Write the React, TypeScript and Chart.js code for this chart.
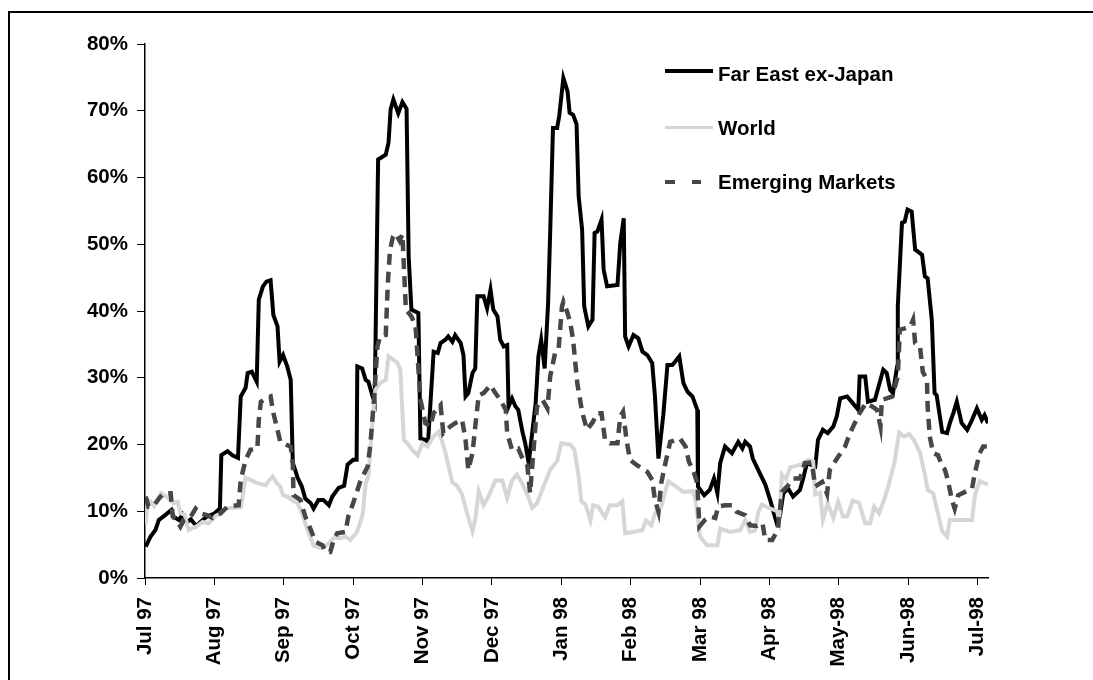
import React, { useEffect, useRef } from 'react';
import { Chart, registerables } from 'chart.js';

Chart.register(...registerables);

// x = months since start of Jul 97, y = percent
const monthLabels = ['Jul 97', 'Aug 97', 'Sep 97', 'Oct 97', 'Nov 97', 'Dec 97', 'Jan 98', 'Feb 98', 'Mar 98', 'Apr 98', 'May-98', 'Jun-98', 'Jul-98'];
const yTickValues = [0, 10, 20, 30, 40, 50, 60, 70, 80];

const farEast: [number, number][] = [
  [0.01, 4.7], [0.08, 6.2], [0.15, 7.2], [0.2, 8.7], [0.3, 9.5], [0.38, 10.2], [0.41, 9.2], [0.49, 8.7], [0.54, 9.5], [0.6, 8.3], [0.66, 8.8], [0.74, 7.8], [0.8, 8.4], [0.89, 9.2], [0.99, 9.6], [1.08, 10.4],
  [1.1, 18.4], [1.19, 19.0], [1.26, 18.4], [1.34, 18.0], [1.38, 27.2], [1.45, 28.5], [1.48, 30.7], [1.54, 30.9], [1.61, 29.4], [1.64, 41.7], [1.7, 43.7], [1.75, 44.4], [1.81, 44.6], [1.85, 39.4], [1.91, 37.7], [1.94, 32.4], [1.99, 33.4], [2.05, 31.7], [2.1, 29.7],
  [2.13, 17.3], [2.2, 15.0], [2.26, 13.7], [2.31, 11.9], [2.39, 11.2], [2.43, 10.4], [2.5, 11.7], [2.57, 11.7], [2.65, 10.9], [2.7, 12.2], [2.79, 13.5], [2.87, 13.8], [2.92, 17.0], [3.0, 17.7], [3.05, 17.7],
  [3.06, 31.7], [3.13, 31.4], [3.18, 29.7], [3.22, 29.4], [3.28, 27.2], [3.31, 26.4], [3.36, 62.7], [3.47, 63.4], [3.51, 65.2], [3.54, 70.2], [3.58, 71.7], [3.65, 69.6], [3.71, 71.3], [3.77, 70.3], [3.8, 48.2], [3.84, 40.2], [3.94, 39.7],
  [3.97, 20.9], [4.04, 20.7], [4.08, 20.4], [4.16, 33.9], [4.22, 33.7], [4.26, 35.2], [4.33, 35.7], [4.37, 36.2], [4.43, 35.4], [4.47, 36.4], [4.55, 35.2], [4.59, 33.4], [4.62, 27.2], [4.66, 27.7], [4.72, 30.7], [4.76, 31.4],
  [4.79, 42.2], [4.88, 42.2], [4.93, 40.4], [4.98, 43.2], [5.02, 40.2], [5.08, 39.2], [5.12, 35.7], [5.17, 34.7], [5.22, 34.9], [5.24, 25.7], [5.29, 26.9], [5.34, 25.7], [5.38, 25.2], [5.44, 21.9], [5.48, 20.2], [5.53, 17.2],
  [5.58, 21.7], [5.63, 26.2], [5.67, 33.2], [5.71, 35.7], [5.76, 31.4], [5.81, 41.2], [5.84, 51.9], [5.88, 67.4], [5.94, 67.4], [5.97, 69.2], [6.03, 74.9], [6.09, 72.9], [6.12, 69.7], [6.17, 69.4], [6.22, 68.0], [6.25, 57.2],
  [6.3, 52.2], [6.33, 40.7], [6.39, 37.7], [6.45, 38.7], [6.48, 51.7], [6.52, 51.9], [6.58, 53.7], [6.61, 46.2], [6.66, 43.7], [6.81, 43.9], [6.85, 50.2], [6.9, 53.9], [6.92, 36.2], [6.97, 34.7], [7.04, 36.4], [7.11, 35.9],
  [7.17, 33.9], [7.24, 33.4], [7.31, 32.2], [7.35, 27.2], [7.4, 17.9], [7.47, 24.4], [7.53, 31.9], [7.6, 31.9], [7.64, 32.4], [7.7, 33.2], [7.76, 29.2], [7.82, 27.9], [7.89, 27.2], [7.96, 25.2], [7.97, 13.7],
  [8.06, 12.4], [8.14, 13.2], [8.2, 14.9], [8.25, 12.7], [8.29, 17.2], [8.36, 19.7], [8.46, 18.7], [8.55, 20.4], [8.61, 19.4], [8.65, 20.4], [8.72, 19.7], [8.76, 17.9], [8.86, 15.7], [8.94, 14.0], [9.01, 11.7], [9.1, 8.4],
  [9.15, 9.2], [9.2, 12.7], [9.27, 13.4], [9.34, 12.2], [9.44, 13.2], [9.48, 14.7], [9.54, 17.2], [9.66, 16.7], [9.7, 20.7], [9.77, 22.2], [9.84, 21.7], [9.92, 22.7], [9.97, 24.2], [10.02, 26.9], [10.12, 27.2], [10.2, 26.2],
  [10.28, 25.2], [10.3, 30.2], [10.38, 30.2], [10.42, 26.4], [10.52, 26.7], [10.6, 29.7], [10.64, 31.2], [10.69, 30.7], [10.74, 28.2], [10.78, 27.7], [10.84, 31.7], [10.85, 40.7], [10.91, 53.2], [10.95, 53.4], [10.99, 55.2],
  [11.05, 54.9], [11.1, 49.2], [11.14, 48.9], [11.2, 48.4], [11.24, 45.2], [11.28, 44.9], [11.34, 38.7], [11.38, 27.7], [11.41, 27.4], [11.49, 21.9], [11.56, 21.7], [11.6, 23.2], [11.65, 24.7], [11.7, 26.4], [11.77, 23.2],
  [11.85, 22.2], [11.92, 23.7], [11.99, 25.4], [12.06, 23.7], [12.1, 24.4], [12.15, 23.2],
];

const world: [number, number][] = [
  [0.01, 8.0], [0.04, 11.7], [0.08, 11.5], [0.13, 10.8], [0.23, 12.7], [0.33, 12.0], [0.41, 11.2], [0.47, 11.4], [0.51, 9.7], [0.57, 9.5], [0.63, 7.2], [0.69, 7.5], [0.74, 7.7], [0.83, 8.4], [0.92, 8.2], [1.02, 9.3],
  [1.09, 9.7], [1.15, 10.4], [1.23, 10.5], [1.38, 10.6], [1.45, 15.0], [1.52, 14.7], [1.62, 14.2], [1.74, 13.9], [1.78, 14.5], [1.84, 15.2], [1.9, 14.2], [1.95, 13.7], [1.99, 12.4], [2.05, 12.2], [2.14, 11.5], [2.2, 11.2],
  [2.27, 9.5], [2.31, 8.2], [2.36, 6.7], [2.43, 4.8], [2.53, 4.5], [2.63, 5.0], [2.72, 6.0], [2.82, 6.0], [2.89, 6.2], [2.96, 5.7], [3.05, 6.8], [3.11, 8.5], [3.14, 9.7], [3.18, 14.2], [3.22, 15.2], [3.28, 23.7],
  [3.32, 28.2], [3.39, 29.2], [3.47, 29.7], [3.51, 33.2], [3.58, 32.7], [3.64, 32.2], [3.68, 31.2], [3.73, 20.7], [3.78, 20.2], [3.85, 19.2], [3.93, 18.4], [4.0, 20.2], [4.07, 19.7], [4.16, 21.2], [4.23, 21.9], [4.27, 20.9],
  [4.33, 18.8], [4.43, 14.3], [4.5, 13.8], [4.57, 12.5], [4.65, 9.4], [4.72, 7.0], [4.76, 8.8], [4.81, 13.0], [4.88, 10.9], [4.95, 12.2], [5.05, 14.6], [5.15, 14.6], [5.22, 12.0], [5.29, 14.6], [5.36, 15.5], [5.44, 14.1],
  [5.53, 12.0], [5.58, 10.5], [5.65, 11.2], [5.74, 13.6], [5.84, 16.2], [5.94, 17.5], [6.0, 20.2], [6.13, 20.0], [6.19, 19.2], [6.25, 15.2], [6.29, 11.5], [6.35, 11.0], [6.42, 8.6], [6.46, 10.9], [6.53, 10.7], [6.63, 9.1],
  [6.7, 10.9], [6.81, 10.9], [6.88, 11.5], [6.92, 6.7], [7.04, 6.9], [7.17, 7.2], [7.22, 8.6], [7.3, 7.9], [7.35, 9.7], [7.44, 10.7], [7.54, 14.5], [7.64, 13.8], [7.76, 12.9], [7.89, 13.0], [7.93, 12.0], [8.0, 6.2],
  [8.1, 4.9], [8.25, 4.9], [8.29, 7.4], [8.43, 6.9], [8.58, 7.2], [8.65, 8.7], [8.72, 6.9], [8.79, 7.1], [8.84, 9.9], [8.89, 11.0], [8.97, 10.6], [9.04, 10.3], [9.11, 10.0], [9.14, 8.7], [9.18, 15.5], [9.24, 14.8],
  [9.3, 16.6], [9.38, 16.8], [9.48, 17.1], [9.56, 17.7], [9.63, 17.5], [9.66, 12.5], [9.73, 12.8], [9.77, 8.7], [9.84, 11.2], [9.92, 9.0], [9.99, 11.4], [10.06, 9.2], [10.12, 9.2], [10.2, 11.6], [10.29, 11.3], [10.38, 8.2],
  [10.45, 8.2], [10.51, 10.7], [10.58, 9.7], [10.65, 11.6], [10.72, 14.0], [10.8, 17.2], [10.87, 21.8], [10.94, 21.2], [11.01, 21.6], [11.08, 20.7], [11.17, 18.8], [11.24, 15.5], [11.28, 13.2], [11.36, 12.7], [11.43, 9.6],
  [11.49, 7.0], [11.56, 6.2], [11.6, 8.7], [11.92, 8.7], [11.96, 12.3], [12.03, 14.5], [12.15, 14.0],
];

const emerging: [number, number][] = [
  [0.01, 12.2], [0.05, 10.7], [0.13, 10.9], [0.2, 11.9], [0.27, 12.7], [0.37, 12.7], [0.4, 9.2], [0.47, 8.4], [0.51, 7.7], [0.56, 8.7], [0.66, 9.2], [0.73, 10.4], [0.8, 9.7], [0.9, 9.4], [0.97, 9.0], [1.02, 9.4],
  [1.09, 9.7], [1.19, 10.7], [1.35, 10.9], [1.38, 14.7], [1.45, 17.7], [1.52, 19.2], [1.62, 19.4], [1.64, 23.7], [1.67, 26.4], [1.74, 26.9], [1.81, 27.2], [1.85, 24.7], [1.91, 22.2], [1.95, 20.4], [2.05, 19.9], [2.1, 19.7],
  [2.13, 17.2], [2.14, 12.4], [2.24, 11.7], [2.31, 9.2], [2.39, 7.2], [2.46, 5.4], [2.56, 4.9], [2.6, 3.9], [2.67, 3.9], [2.72, 5.7], [2.77, 6.7], [2.89, 6.9], [2.93, 9.2], [3.0, 11.2], [3.11, 14.7], [3.21, 16.7],
  [3.25, 20.2], [3.3, 26.7], [3.35, 34.7], [3.39, 36.2], [3.47, 36.4], [3.5, 44.2], [3.53, 49.0], [3.57, 51.0], [3.61, 51.6], [3.67, 50.5], [3.71, 51.5], [3.76, 40.2], [3.84, 39.2], [3.9, 37.7], [3.97, 26.7], [4.04, 23.2],
  [4.11, 22.7], [4.16, 24.7], [4.26, 25.9], [4.3, 21.7], [4.4, 22.7], [4.47, 23.2], [4.57, 23.7], [4.62, 20.7], [4.66, 16.2], [4.72, 18.7], [4.76, 22.7], [4.81, 27.4], [4.88, 27.7], [4.98, 28.9], [5.05, 27.7], [5.12, 26.7],
  [5.2, 25.2], [5.22, 21.7], [5.29, 19.2], [5.38, 19.4], [5.45, 17.7], [5.51, 16.9], [5.55, 12.7], [5.6, 19.2], [5.65, 25.7], [5.73, 26.7], [5.8, 25.4], [5.84, 30.2], [5.91, 33.7], [5.96, 34.2], [6.01, 40.7], [6.03, 41.4],
  [6.09, 39.7], [6.13, 38.2], [6.17, 35.7], [6.23, 29.2], [6.3, 24.9], [6.37, 22.2], [6.45, 23.3], [6.52, 24.7], [6.58, 24.7], [6.63, 20.7], [6.7, 20.2], [6.81, 20.2], [6.85, 24.2], [6.89, 24.9], [6.94, 20.7], [6.99, 17.7],
  [7.09, 16.9], [7.24, 15.9], [7.31, 14.7], [7.35, 11.7], [7.4, 9.9], [7.44, 14.2], [7.5, 17.2], [7.57, 20.4], [7.71, 20.9], [7.79, 19.7], [7.84, 17.4], [7.9, 16.2], [7.96, 14.2], [7.99, 7.7], [8.07, 8.7], [8.14, 9.2],
  [8.22, 9.0], [8.26, 10.7], [8.36, 10.9], [8.46, 10.9], [8.53, 9.9], [8.65, 9.4], [8.72, 7.9], [8.82, 7.8], [8.9, 8.2], [8.94, 5.7], [9.04, 5.7], [9.12, 7.2], [9.18, 12.9], [9.27, 13.9], [9.34, 14.9], [9.44, 14.9],
  [9.51, 17.2], [9.61, 17.3], [9.66, 13.7], [9.76, 14.4], [9.83, 12.6], [9.87, 16.2], [9.93, 17.2], [10.0, 18.3], [10.09, 19.7], [10.16, 21.7], [10.23, 23.2], [10.3, 24.7], [10.39, 26.2], [10.48, 25.7], [10.55, 25.2],
  [10.6, 22.7], [10.62, 26.7], [10.69, 26.9], [10.77, 27.2], [10.81, 28.7], [10.85, 30.2], [10.88, 37.2], [10.95, 37.4], [11.03, 37.7], [11.07, 38.7], [11.1, 35.2], [11.17, 34.7], [11.21, 30.9], [11.27, 29.7], [11.28, 25.7],
  [11.31, 21.2], [11.36, 18.7], [11.43, 18.4], [11.49, 16.7], [11.53, 16.2], [11.57, 14.7], [11.63, 11.7], [11.67, 10.4], [11.72, 12.4], [11.82, 12.9], [11.92, 13.4], [11.96, 15.7], [12.03, 18.7], [12.08, 19.7], [12.15, 19.7],
];

const FONT_FAMILY = '"Liberation Sans", Arial, sans-serif';
const FONT_SIZE = 20.5;

const toPoints = (pairs: [number, number][]) => pairs.map(([x, y]) => ({ x, y }));

export default function App() {
  const canvasRef = useRef<HTMLCanvasElement>(null);

  useEffect(() => {
    if (!canvasRef.current) return;
    const font = { family: FONT_FAMILY, size: FONT_SIZE, weight: 'bold' as const };
    const chart = new Chart(canvasRef.current, {
      type: 'line',
      data: {
        datasets: [
          {
            label: 'Far East ex-Japan',
            data: toPoints(farEast),
            borderColor: '#000000',
            borderWidth: 4,
            pointRadius: 0,
            tension: 0,
            order: 3,
          },
          {
            label: 'World',
            data: toPoints(world),
            borderColor: '#d6d6d6',
            borderWidth: 4,
            pointRadius: 0,
            tension: 0,
            order: 2,
          },
          {
            label: 'Emerging Markets',
            data: toPoints(emerging),
            borderColor: '#474747',
            borderWidth: 4.5,
            borderDash: [11, 7],
            pointRadius: 0,
            tension: 0,
            order: 1,
          },
        ],
      },
      options: {
        animation: false,
        responsive: false,
        devicePixelRatio: 1,
        layout: { padding: { left: 0, top: 44, right: 105, bottom: 0 } },
        plugins: { legend: { display: false }, tooltip: { enabled: false } },
        scales: {
          x: {
            type: 'linear',
            min: 0,
            max: 12.15,
            afterBuildTicks: (scale: any) => {
              scale.ticks = monthLabels.map((_, i) => ({ value: i }));
            },
            afterFit: (scale: any) => {
              scale.height = 102;
            },
            grid: { display: true, drawOnChartArea: false, drawTicks: true, tickLength: 7, color: '#000', lineWidth: 1 },
            border: { display: true, color: '#000', width: 1.5 },
            ticks: {
              autoSkip: false,
              minRotation: 90,
              maxRotation: 90,
              padding: 12,
              color: '#000',
              font,
              callback: (v: any) => monthLabels[Math.round(Number(v))] ?? '',
            },
          },
          y: {
            min: 0,
            max: 80,
            afterBuildTicks: (scale: any) => {
              scale.ticks = yTickValues.map((v) => ({ value: v }));
            },
            afterFit: (scale: any) => {
              scale.width = 145;
            },
            grid: { display: true, drawOnChartArea: false, drawTicks: true, tickLength: 8, color: '#000', lineWidth: 1 },
            border: { display: true, color: '#000', width: 1.5 },
            ticks: {
              padding: 9,
              color: '#000',
              font,
              callback: (v: any) => `${v}%`,
            },
          },
        },
      },
    });
    return () => chart.destroy();
  }, []);

  const textStyle: React.CSSProperties = {
    position: 'absolute',
    left: 718,
    fontFamily: FONT_FAMILY,
    fontSize: FONT_SIZE,
    fontWeight: 'bold',
    color: '#000',
    whiteSpace: 'nowrap',
    lineHeight: '24px',
  };

  return (
    <div style={{ position: 'fixed', left: 0, top: 0, width: '100vw', height: '100vh', overflow: 'hidden', background: '#fff' }}>
      <div
        style={{
          position: 'absolute',
          left: 8,
          top: 11,
          width: 1200,
          height: 800,
          border: '2px solid #000',
          boxSizing: 'border-box',
        }}
      />
      <canvas ref={canvasRef} width={1093} height={680} style={{ position: 'absolute', left: 0, top: 0, width: 1093, height: 680 }} />
      <div style={{ position: 'absolute', left: 665, top: 69, width: 48, height: 4, background: '#000' }} />
      <div style={{ ...textStyle, top: 62 }}>Far East ex-Japan</div>
      <div style={{ position: 'absolute', left: 665, top: 126, width: 48, height: 3, background: '#d6d6d6' }} />
      <div style={{ ...textStyle, top: 116 }}>World</div>
      <div style={{ position: 'absolute', left: 665, top: 180, width: 10, height: 4, background: '#474747' }} />
      <div style={{ position: 'absolute', left: 692, top: 180, width: 9, height: 4, background: '#474747' }} />
      <div style={{ ...textStyle, top: 170 }}>Emerging Markets</div>
    </div>
  );
}
